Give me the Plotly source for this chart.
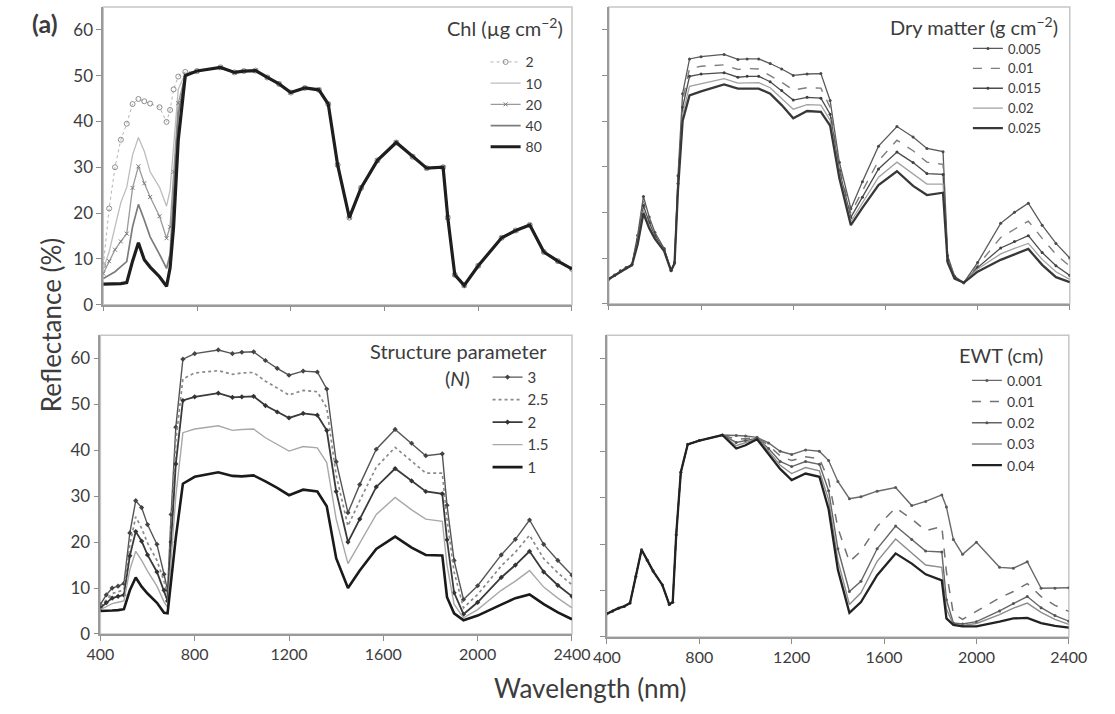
import plotly.graph_objects as go

# ---------------------------------------------------------------------------
# Simulated leaf reflectance spectra (%), sampled on a common wavelength grid
# ---------------------------------------------------------------------------
wavelength_nm = [400, 425, 450, 475, 500, 525, 550, 575, 600, 640, 670, 685, 700, 720, 750,
                 800, 900, 960, 1000, 1050, 1100, 1150, 1200, 1260, 1320, 1360, 1400, 1450,
                 1500, 1570, 1650, 1720, 1780, 1850, 1870, 1900, 1940, 2000, 2100, 2160,
                 2220, 2280, 2340, 2400]

# Chlorophyll content (ug cm-2): curves differ only in the visible / red edge (400-750 nm)
chl_levels = ["2", "10", "20", "40", "80"]
chl_2_vis = [8.6, 21.0, 30.0, 36.0, 39.5, 43.8, 44.9, 44.4, 43.9, 43.1, 39.9, 42.5, 47.0, 49.8, 50.8]
chl_10_vis = [7.9, 11.5, 17.0, 22.3, 25.6, 32.7, 36.5, 33.5, 29.0, 25.6, 21.5, 25.0, 34.5, 47.0, 50.5]
chl_20_vis = [6.8, 9.5, 12.0, 13.8, 15.5, 25.5, 30.2, 26.5, 23.5, 19.3, 14.5, 17.0, 29.0, 44.0, 50.2]
chl_40_vis = [5.7, 6.5, 7.2, 8.3, 9.4, 17.0, 21.9, 18.5, 14.8, 11.0, 7.9, 11.0, 24.0, 41.5, 50.2]
chl_80_vis = [4.5, 4.5, 4.5, 4.6, 4.8, 9.5, 13.5, 9.8, 8.2, 6.1, 4.0, 8.0, 17.0, 36.0, 50.0]
chl_nir_swir = [51.0, 51.8, 50.7, 51.0, 51.1, 49.6, 48.2, 46.3, 47.3, 46.9, 43.8, 30.5, 19.0,
                25.5, 31.5, 35.4, 32.3, 29.8, 30.0, 19.0, 6.5, 4.2, 8.5, 14.6, 16.2, 17.4,
                11.5, 9.5, 7.8]

# Dry matter content (g cm-2)
dm_levels = ["0.005", "0.01", "0.015", "0.02", "0.025"]
dm_0005 = [5.4, 6.3, 7.2, 7.9, 8.6, 15.0, 23.5, 19.0, 15.6, 12.1, 7.3, 9.0, 28.0, 46.0, 53.6,
           54.1, 54.6, 53.5, 53.6, 53.6, 52.6, 51.4, 50.0, 50.3, 50.4, 44.5, 31.0, 20.8,
           26.7, 34.5, 38.8, 36.5, 34.0, 33.3, 10.5, 6.0, 4.6, 9.0, 17.6, 20.0, 22.0, 17.2,
           13.2, 10.0]
dm_001 = [5.4, 6.3, 7.1, 7.8, 8.5, 14.5, 22.5, 18.4, 15.2, 11.9, 7.3, 8.9, 27.0, 44.5, 51.5,
          52.0, 52.3, 51.3, 51.5, 51.4, 50.0, 48.5, 46.8, 47.3, 47.2, 43.0, 30.0, 19.8,
          24.7, 31.3, 35.8, 33.5, 31.0, 30.5, 10.0, 5.9, 4.6, 8.3, 14.5, 16.3, 18.1, 14.3,
          10.8, 8.2]
dm_0015 = [5.4, 6.2, 7.1, 7.8, 8.5, 14.0, 21.5, 17.8, 14.9, 11.8, 7.2, 8.9, 26.3, 43.0, 49.8,
           50.3, 50.6, 49.6, 49.8, 49.8, 48.6, 46.7, 44.6, 45.2, 45.0, 41.5, 29.2, 18.9,
           23.3, 29.5, 33.2, 30.9, 28.5, 28.3, 9.5, 5.8, 4.6, 7.9, 12.2, 13.6, 14.9, 11.2,
           8.3, 6.2]
dm_002 = [5.4, 6.2, 7.0, 7.7, 8.4, 13.5, 20.5, 17.1, 14.5, 11.6, 7.2, 8.8, 25.6, 41.5, 47.6,
          48.2, 49.3, 48.3, 48.4, 48.4, 47.3, 45.0, 42.6, 43.6, 43.5, 40.2, 28.4, 18.0,
          22.1, 27.7, 31.0, 28.5, 26.2, 26.2, 9.2, 5.6, 4.6, 7.6, 10.9, 12.1, 13.2, 9.7,
          7.0, 5.3]
dm_0025 = [5.4, 6.2, 7.0, 7.7, 8.4, 13.0, 19.8, 16.5, 14.2, 11.5, 7.2, 8.8, 25.0, 40.0, 45.6,
           46.5, 48.0, 47.1, 47.1, 47.1, 46.0, 43.5, 40.6, 42.2, 42.0, 39.0, 27.5, 17.2,
           21.0, 26.0, 29.0, 25.8, 23.8, 24.3, 9.0, 5.5, 4.6, 7.0, 9.6, 10.8, 12.0, 8.5,
           5.8, 4.7]

# Leaf structure parameter N
n_levels = ["3", "2.5", "2", "1.5", "1"]
n_3 = [6.4, 8.5, 10.0, 10.4, 11.0, 22.0, 29.0, 27.5, 23.8, 19.5, 13.0, 9.5, 26.0, 45.0, 59.8,
       61.0, 61.8, 61.0, 61.3, 61.4, 59.5, 57.8, 56.3, 57.2, 57.0, 53.3, 37.5, 26.4, 32.5,
       40.2, 44.5, 41.5, 38.8, 39.2, 28.0, 16.0, 7.5, 10.5, 17.2, 20.6, 24.8, 19.5, 16.0,
       12.8]
n_25 = [6.0, 7.5, 8.8, 9.2, 9.6, 19.5, 25.5, 23.0, 19.8, 16.0, 11.5, 8.5, 24.0, 42.0, 55.5,
        56.8, 57.3, 56.5, 56.8, 56.9, 55.0, 53.5, 52.0, 53.0, 52.7, 49.2, 34.5, 23.5, 29.0,
        36.3, 40.6, 37.6, 35.0, 35.0, 25.0, 13.5, 5.7, 8.6, 14.8, 17.8, 21.5, 16.4, 13.3,
        10.7]
n_2 = [5.7, 6.8, 7.8, 8.2, 8.5, 17.0, 22.3, 20.2, 17.2, 13.5, 9.5, 7.2, 20.0, 37.0, 50.8,
       51.6, 52.4, 51.5, 51.6, 51.7, 49.7, 48.3, 47.0, 48.0, 47.6, 44.3, 31.0, 20.0, 25.0,
       32.0, 36.0, 33.3, 31.0, 30.5, 20.5, 9.0, 4.3, 6.9, 12.3, 15.0, 18.0, 13.5, 10.6,
       8.2]
n_15 = [5.3, 6.0, 6.6, 6.9, 7.2, 14.0, 18.0, 16.0, 13.7, 10.4, 7.0, 5.8, 16.0, 30.0, 43.8,
        44.6, 45.3, 44.3, 44.5, 44.6, 42.7, 41.2, 39.8, 40.8, 40.5, 37.3, 25.0, 15.3, 19.8,
        26.0, 29.7, 27.0, 25.0, 24.5, 15.0, 6.5, 3.5, 5.3, 9.5, 11.5, 13.8, 10.2, 7.8,
        5.7]
n_1 = [5.0, 5.0, 5.1, 5.2, 5.4, 9.5, 12.3, 10.3, 8.8, 6.8, 4.6, 4.5, 12.0, 21.0, 32.7,
       34.2, 35.2, 34.4, 34.3, 34.5, 33.2, 31.8, 30.2, 31.4, 31.0, 27.8, 16.5, 10.0, 13.8,
       18.5, 21.2, 18.8, 17.2, 17.1, 8.0, 4.5, 3.0, 4.0, 6.4, 7.8, 8.6, 6.5, 4.7,
       3.2]

# Equivalent water thickness (cm)
ewt_levels = ["0.001", "0.01", "0.02", "0.03", "0.04"]
ewt_0001 = [5.0, 5.6, 6.2, 6.6, 7.3, 13.0, 18.8, 16.5, 14.2, 11.2, 7.0, 7.5, 22.0, 35.5, 41.5,
            42.3, 43.5, 43.4, 43.3, 43.0, 41.8, 40.0, 39.3, 40.3, 40.0, 38.0, 33.5, 29.8,
            30.2, 31.4, 32.2, 28.3, 29.2, 30.6, 28.0, 21.0, 17.8, 20.4, 15.0, 14.8, 16.2,
            10.5, 10.5, 10.6]
ewt_001 = [5.0, 5.6, 6.2, 6.6, 7.3, 13.0, 18.8, 16.5, 14.2, 11.2, 7.0, 7.5, 22.0, 35.5, 41.5,
           42.3, 43.5, 42.6, 42.8, 42.9, 41.3, 39.0, 38.0, 38.8, 38.4, 33.8, 23.5, 16.2,
           18.5, 23.8, 27.8, 25.4, 22.9, 23.8, 14.0, 5.0, 3.8, 5.5, 8.4, 9.8, 11.5, 8.7,
           6.8, 5.5]
ewt_002 = [5.0, 5.6, 6.2, 6.6, 7.3, 13.0, 18.8, 16.5, 14.2, 11.2, 7.0, 7.5, 22.0, 35.5, 41.5,
           42.3, 43.5, 41.9, 42.3, 42.8, 40.6, 37.8, 36.7, 37.8, 37.2, 31.5, 19.0, 9.8,
           12.0, 19.0, 23.9, 21.0, 18.5, 18.3, 8.0, 3.0, 2.8, 3.3, 5.6, 7.2, 8.7, 6.3,
           4.6, 3.4]
ewt_003 = [5.0, 5.6, 6.2, 6.6, 7.3, 13.0, 18.8, 16.5, 14.2, 11.2, 7.0, 7.5, 22.0, 35.5, 41.5,
           42.3, 43.5, 41.2, 41.8, 42.7, 40.0, 37.0, 35.2, 36.5, 35.8, 29.5, 16.5, 7.0,
           9.5, 16.3, 21.1, 18.0, 15.5, 15.0, 6.0, 2.7, 2.5, 2.9, 4.8, 6.2, 7.3, 5.3,
           3.8, 2.7]
ewt_004 = [5.0, 5.6, 6.2, 6.6, 7.3, 13.0, 18.8, 16.5, 14.2, 11.2, 7.0, 7.5, 22.0, 35.5, 41.5,
           42.3, 43.5, 40.6, 41.3, 42.6, 39.4, 36.2, 33.8, 35.2, 34.5, 27.5, 14.5, 5.2,
           7.5, 13.3, 18.0, 15.8, 13.5, 12.2, 4.0, 2.6, 2.3, 2.3, 3.3, 4.0, 4.1, 3.0,
           2.4, 2.0]

x_ticks = [400, 800, 1200, 1600, 2000, 2400]
y_ticks = [0, 10, 20, 30, 40, 50, 60]

# ---------------------------------------------------------------------------
W, H = 1115, 714
FONT = "Lato, Carlito, Calibri, 'DejaVu Sans', sans-serif"
TXT = "#3c3c3c"


def px_x(px):
    return px / W


def px_y(py):
    return 1 - py / H


# plot-area bounds in pixels: (left, right, top, bottom)
panels = {
    "1": (92, 575, 7, 309),
    "2": (613, 1088, 7, 308),
    "3": (89, 575, 340, 643),
    "4": (611, 1087, 340, 646),
}

# per-series line styles
styles_chl = [
    dict(mode="lines+markers", line=dict(color="#b4b4b4", width=1, dash="dot"),
         marker=dict(symbol="circle-open", size=5, color="#8e8e8e", line=dict(width=1))),
    dict(mode="lines", line=dict(color="#bdbdbd", width=1.3)),
    dict(mode="lines+markers", line=dict(color="#9a9a9a", width=1.3),
         marker=dict(symbol="x-thin-open", size=4, color="#7a7a7a", line=dict(width=1))),
    dict(mode="lines", line=dict(color="#7c7c7c", width=1.7)),
    dict(mode="lines", line=dict(color="#1e1e1e", width=3.2)),
]
styles_dm = [
    dict(mode="lines+markers", line=dict(color="#5a5a5a", width=1.3),
         marker=dict(symbol="circle", size=3, color="#4a4a4a")),
    dict(mode="lines", line=dict(color="#7e7e7e", width=1.4, dash="dash")),
    dict(mode="lines+markers", line=dict(color="#4c4c4c", width=1.3),
         marker=dict(symbol="circle", size=3, color="#404040")),
    dict(mode="lines", line=dict(color="#a2a2a2", width=1.3)),
    dict(mode="lines", line=dict(color="#383838", width=2.3)),
]
styles_n = [
    dict(mode="lines+markers", line=dict(color="#555555", width=1.4),
         marker=dict(symbol="diamond", size=4, color="#444444")),
    dict(mode="lines", line=dict(color="#8a8a8a", width=1.7, dash="dot")),
    dict(mode="lines+markers", line=dict(color="#3a3a3a", width=1.8),
         marker=dict(symbol="diamond", size=4, color="#333333")),
    dict(mode="lines", line=dict(color="#a8a8a8", width=1.4)),
    dict(mode="lines", line=dict(color="#1a1a1a", width=2.6)),
]
styles_ewt = [
    dict(mode="lines+markers", line=dict(color="#6a6a6a", width=1.4),
         marker=dict(symbol="circle", size=3, color="#5a5a5a")),
    dict(mode="lines", line=dict(color="#727272", width=1.5, dash="dash")),
    dict(mode="lines+markers", line=dict(color="#666666", width=1.4),
         marker=dict(symbol="circle", size=3, color="#555555")),
    dict(mode="lines", line=dict(color="#8c8c8c", width=1.4)),
    dict(mode="lines", line=dict(color="#222222", width=2.3)),
]

chl_series = [v + chl_nir_swir for v in (chl_2_vis, chl_10_vis, chl_20_vis, chl_40_vis, chl_80_vis)]
groups = [
    ("1", "legend", chl_levels, chl_series, styles_chl),
    ("2", "legend2", dm_levels, [dm_0005, dm_001, dm_0015, dm_002, dm_0025], styles_dm),
    ("3", "legend3", n_levels, [n_3, n_25, n_2, n_15, n_1], styles_n),
    ("4", "legend4", ewt_levels, [ewt_0001, ewt_001, ewt_002, ewt_003, ewt_004], styles_ewt),
]

fig = go.Figure()
for key, leg, names, series, styles in groups:
    axsuf = "" if key == "1" else key
    for name, ys, st in zip(names, series, styles):
        fig.add_trace(go.Scatter(
            x=wavelength_nm, y=ys, name=name, legend=leg,
            xaxis="x" + axsuf, yaxis="y" + axsuf, **st))

layout = dict(
    width=W, height=H,
    margin=dict(l=0, r=0, t=0, b=0),
    paper_bgcolor="white", plot_bgcolor="white",
    font=dict(family=FONT, color=TXT),
    shapes=[], annotations=[],
)

for key, (l, r, t, b) in panels.items():
    axsuf = "" if key == "1" else key
    xa = dict(
        domain=[px_x(l), px_x(r)], range=[400, 2400], anchor="y" + axsuf,
        tickvals=x_ticks, ticks="outside", ticklen=5, tickwidth=1.2, tickcolor="#8c8c8c",
        showline=True, linecolor="#9a9a9a", linewidth=1.6, showgrid=False, zeroline=False,
        showticklabels=key in ("3", "4"), tickfont=dict(size=16, color=TXT, family=FONT),
    )
    ya = dict(
        domain=[px_y(b), px_y(t)], range=[0, 65], anchor="x" + axsuf,
        tickvals=y_ticks, ticks="outside", ticklen=5, tickwidth=1.2, tickcolor="#8c8c8c",
        showline=True, linecolor="#9a9a9a", linewidth=1.6, showgrid=False, zeroline=False,
        showticklabels=key in ("1", "3"), tickfont=dict(size=17, color=TXT, family=FONT),
    )
    layout["xaxis" + axsuf] = xa
    layout["yaxis" + axsuf] = ya
    layout["shapes"].append(dict(
        type="rect", xref="x" + axsuf + " domain", yref="y" + axsuf + " domain",
        x0=0, x1=1, y0=0, y1=1, line=dict(color="#c6c6c6", width=1.5), layer="below"))

# per-panel legends
legend_common = dict(bgcolor="rgba(0,0,0,0)", borderwidth=0, itemwidth=30,
                     xanchor="left", yanchor="top", tracegroupgap=0,
                     itemclick=False, itemdoubleclick=False)
layout["legend"] = dict(legend_common, x=px_x(486), y=px_y(47), font=dict(size=14, color=TXT))
layout["legend2"] = dict(legend_common, x=px_x(983), y=px_y(34), font=dict(size=13, color=TXT))
layout["legend3"] = dict(legend_common, x=px_x(488), y=px_y(366), font=dict(size=15, color=TXT))
layout["legend4"] = dict(legend_common, x=px_x(982), y=px_y(370), font=dict(size=14, color=TXT))


def label(text, x, y, size, xanchor="center", yanchor="middle", **kw):
    layout["annotations"].append(dict(
        text=text, x=px_x(x), y=px_y(y), xref="paper", yref="paper",
        xanchor=xanchor, yanchor=yanchor, showarrow=False,
        font=dict(size=size, color=kw.pop("color", TXT), family=FONT), **kw))


label("<b>(a)</b>", 17, 23, 25, xanchor="left")
label("Chl (µg cm<sup>−2</sup>)", 568, 27, 20, xanchor="right")
label("Dry matter (g cm<sup>−2</sup>)", 1078, 26, 20, xanchor="right")
label("Structure parameter", 551, 356, 20, xanchor="right")
label("(<i>N</i>)", 457, 383, 20)
label("EWT (cm)", 1062, 360, 20, xanchor="right")
label("Wavelength (nm)", 594, 698, 26)
label("Reflectance (%)", 39, 329, 26, textangle=-90)

fig.update_layout(**layout)
fig.write_html("out.html")
